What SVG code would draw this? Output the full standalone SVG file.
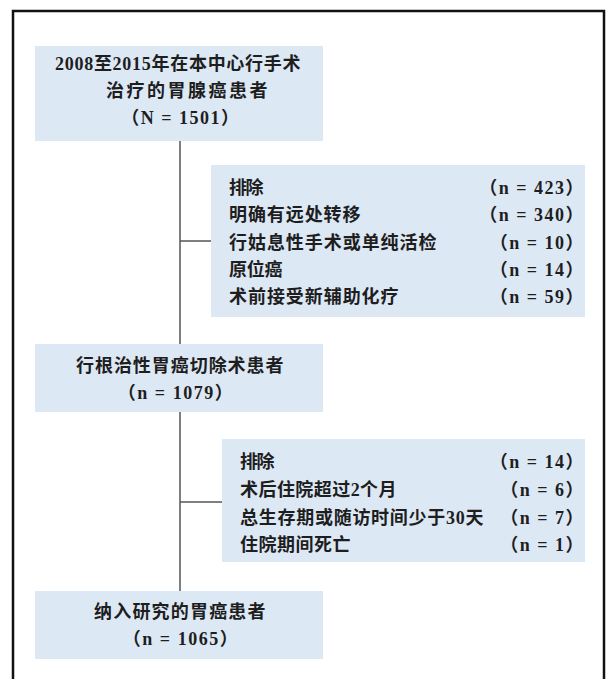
<svg xmlns="http://www.w3.org/2000/svg" width="613" height="679" viewBox="0 0 613 679">
<style>
.box{fill:#dde8f5;}
.t{font-family:"Liberation Serif","Noto Sans CJK SC",serif;font-size:18px;font-weight:bold;fill:#1e1e1e;letter-spacing:1.5px;dominant-baseline:central;}
.c{text-anchor:middle;}
.r{text-anchor:end;}
.ln{stroke:#555;stroke-width:1.5;fill:none;}
</style>
<rect x="0" y="0" width="613" height="679" fill="#fff"/>
<path d="M13,690 V11 H604 V690" fill="none" stroke="#111" stroke-width="2.5"/>
<g id="connectors">
<line class="ln" x1="180" y1="141" x2="180" y2="591"/>
<line class="ln" x1="180" y1="241" x2="211" y2="241"/>
<line class="ln" x1="180" y1="502" x2="222" y2="502"/>
</g>
<g id="n1">
<rect class="box" x="35" y="46" width="288" height="95"/>
<text class="t" x="55" y="64" textLength="247" lengthAdjust="spacing">2008至2015年在本中心行手术</text>
<text class="t" x="106" y="91" textLength="163" lengthAdjust="spacing">治疗的胃腺癌患者</text>
<text class="t c" x="181" y="118">（N = 1501）</text>
</g>
<g id="n2">
<rect class="box" x="211" y="165" width="374" height="152"/>
<text class="t" x="229" y="188" textLength="36" lengthAdjust="spacing">排除</text>
<text class="t" x="229" y="215" textLength="133" lengthAdjust="spacing">明确有远处转移</text>
<text class="t" x="229" y="243" textLength="209" lengthAdjust="spacing">行姑息性手术或单纯活检</text>
<text class="t" x="229" y="270" textLength="55" lengthAdjust="spacing">原位癌</text>
<text class="t" x="229" y="297" textLength="171" lengthAdjust="spacing">术前接受新辅助化疗</text>
<text class="t r" x="585" y="188">（n = 423）</text>
<text class="t r" x="585" y="215">（n = 340）</text>
<text class="t r" x="585" y="243">（n = 10）</text>
<text class="t r" x="585" y="270">（n = 14）</text>
<text class="t r" x="585" y="297">（n = 59）</text>
</g>
<g id="n3">
<rect class="box" x="35" y="344" width="288" height="68"/>
<text class="t" x="76" y="366" textLength="209" lengthAdjust="spacing">行根治性胃癌切除术患者</text>
<text class="t c" x="176" y="393">（n = 1079）</text>
</g>
<g id="n4">
<rect class="box" x="222" y="439" width="363" height="123"/>
<text class="t" x="240" y="462" textLength="36" lengthAdjust="spacing">排除</text>
<text class="t" x="240" y="490" textLength="158" lengthAdjust="spacing">术后住院超过2个月</text>
<text class="t" x="240" y="518" textLength="245" lengthAdjust="spacing">总生存期或随访时间少于30天</text>
<text class="t" x="240" y="545" textLength="112" lengthAdjust="spacing">住院期间死亡</text>
<text class="t r" x="585" y="462">（n = 14）</text>
<text class="t r" x="585" y="490">（n = 6）</text>
<text class="t r" x="585" y="518">（n = 7）</text>
<text class="t r" x="585" y="545">（n = 1）</text>
</g>
<g id="n5">
<rect class="box" x="35" y="591" width="288" height="68"/>
<text class="t" x="94" y="612" textLength="173" lengthAdjust="spacing">纳入研究的胃癌患者</text>
<text class="t c" x="181" y="639">（n = 1065）</text>
</g>
</svg>
